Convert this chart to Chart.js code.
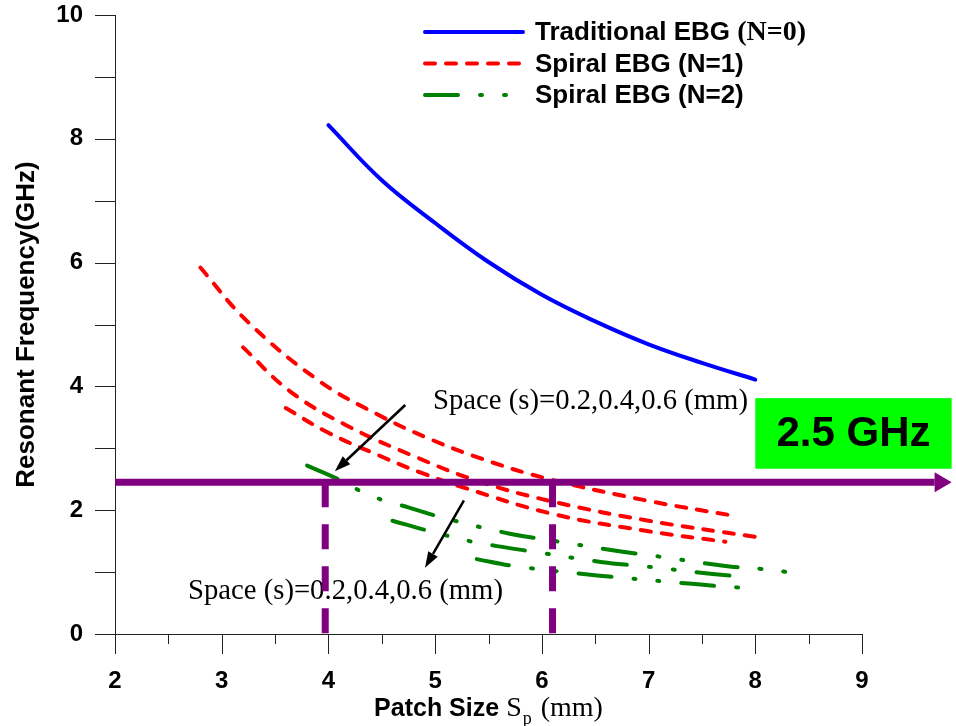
<!DOCTYPE html>
<html>
<head>
<meta charset="utf-8">
<title>Resonant frequency vs patch size</title>
<script src="https://cdn.jsdelivr.net/npm/chart.js@4.4.1/dist/chart.umd.min.js"></script>
<style>
  html, body { margin: 0; padding: 0; background: #fff; }
  canvas { display: block; }
</style>
</head>
<body>
<canvas id="chart" width="956" height="726"></canvas>
<script>
// Patch size Sp (mm) -> resonant frequency (GHz)
const sizeN0 = [4.0, 4.5, 5.0, 5.5, 6.0, 6.5, 7.0, 7.5, 8.0];
const freqN0 = [8.22, 7.33, 6.64, 6.01, 5.48, 5.05, 4.68, 4.38, 4.11];

// spiral N=1, three spacings
const sizeN1a = [2.8, 3.24, 3.92, 4.48, 4.91, 5.42, 6.05, 7.0, 7.8];
const freqN1a = [5.92, 5.05, 4.08, 3.53, 3.18, 2.84, 2.51, 2.15, 1.91];
const sizeN1b = [3.2, 3.64, 4.17, 4.79, 5.42, 6.1, 7.0, 8.0];
const freqN1b = [4.63, 3.92, 3.37, 2.88, 2.46, 2.14, 1.83, 1.57];
const sizeN1c = [3.6, 4.0, 4.48, 4.86, 5.26, 6.1, 7.0, 7.72];
const freqN1c = [3.65, 3.25, 2.88, 2.61, 2.37, 1.94, 1.66, 1.49];

// spiral N=2, three spacings
const sizeN2a = [3.8, 4.08, 4.3, 4.53, 4.74, 5.07, 5.7, 6.06, 6.71, 7.06, 7.72, 8.06, 8.3];
const freqN2a = [2.72, 2.51, 2.31, 2.15, 2.05, 1.88, 1.62, 1.52, 1.34, 1.26, 1.10, 1.05, 1.0];
const sizeN2b = [4.6, 4.93, 5.35, 5.58, 5.92, 6.57, 6.92, 7.6, 7.93];
const freqN2b = [1.83, 1.67, 1.49, 1.42, 1.33, 1.16, 1.10, 0.97, 0.92];
const sizeN2c = [5.39, 5.73, 6.39, 6.75, 7.41, 7.76, 7.97];
const freqN2c = [1.21, 1.10, 0.97, 0.91, 0.81, 0.76, 0.74];

const seriesNames = ['Traditional EBG ', 'Spiral EBG (N=1)', 'Spiral EBG (N=2)'];
const targetFreq = 2.45;          // the "2.5 GHz" line
const targetLabel = '2.5 GHz';
const crossSizes = [3.97, 6.1];   // where the target line is met
const spaceLabel = 'Space (s)=0.2,0.4,0.6 (mm)';

const SANS = '"Liberation Sans", Arial, sans-serif';
const SERIF = '"Liberation Serif", "Times New Roman", serif';
const PURPLE = '#800080';

// annotation placement, in data units
const notes = [
  { text: [4.98, 3.63], from: [4.72, 3.70], to: [4.06, 2.63] },
  { text: [2.684, 0.565], from: [5.27, 2.16], to: [4.905, 1.07] }
];
const arrowEnd = 9.84;
const boxX = [8.0, 9.84], boxY = [2.67, 3.81];

function pts(xs, ys) {
  return xs.map((x, i) => ({ x: x, y: ys[i] }));
}

function curve(label, xs, ys, color, dash) {
  return {
    label: label,
    data: pts(xs, ys),
    borderColor: color,
    borderWidth: 4,
    borderDash: dash,
    borderCapStyle: 'round',
    borderJoinStyle: 'round',
    tension: 0.4,
    pointRadius: 0,
    fill: false
  };
}

const redDash = [10, 11];
const greenDash = [33, 22, 2, 22, 2, 22];

const datasets = [
  curve(seriesNames[0], sizeN0, freqN0, '#0000ff', []),
  curve(seriesNames[1], sizeN1a, freqN1a, '#ff0000', redDash),
  curve(seriesNames[1], sizeN1b, freqN1b, '#ff0000', redDash),
  curve(seriesNames[1], sizeN1c, freqN1c, '#ff0000', redDash),
  curve(seriesNames[2], sizeN2a, freqN2a, '#008000', greenDash),
  curve(seriesNames[2], sizeN2b, freqN2b, '#008000', greenDash),
  curve(seriesNames[2], sizeN2c, freqN2c, '#008000', greenDash)
];

function arrow(ctx, x1, y1, x2, y2, color, width, headLen, headW) {
  const ang = Math.atan2(y2 - y1, x2 - x1);
  const bx = x2 - headLen * Math.cos(ang), by = y2 - headLen * Math.sin(ang);
  ctx.strokeStyle = color;
  ctx.fillStyle = color;
  ctx.lineWidth = width;
  ctx.setLineDash([]);
  ctx.beginPath();
  ctx.moveTo(x1, y1);
  ctx.lineTo(bx, by);
  ctx.stroke();
  ctx.beginPath();
  ctx.moveTo(x2, y2);
  ctx.lineTo(bx + headW / 2 * Math.sin(ang), by - headW / 2 * Math.cos(ang));
  ctx.lineTo(bx - headW / 2 * Math.sin(ang), by + headW / 2 * Math.cos(ang));
  ctx.closePath();
  ctx.fill();
}

// tick marks: major and minor, outside the axes
const tickPlugin = {
  id: 'tickMarks',
  afterDraw(chart) {
    const { ctx, chartArea: a, scales: { x, y } } = chart;
    ctx.save();
    ctx.strokeStyle = '#222';
    ctx.lineWidth = 1;
    for (let v = 0; v <= 10; v += 1) {
      const py = Math.round(y.getPixelForValue(v)) + 0.5;
      ctx.beginPath();
      ctx.moveTo(a.left - 20, py);
      ctx.lineTo(a.left, py);
      ctx.stroke();
    }
    for (let v = 2; v <= 9.001; v += 0.5) {
      const px = Math.round(x.getPixelForValue(v)) + 0.5;
      const len = Number.isInteger(v) ? 20 : 10;
      ctx.beginPath();
      ctx.moveTo(px, a.bottom);
      ctx.lineTo(px, a.bottom + len);
      ctx.stroke();
    }
    ctx.restore();
  }
};

// x title with subscript, legend, annotations, 2.5 GHz marker
const overlayPlugin = {
  id: 'overlay',
  afterDatasetsDraw(chart) {
    const { ctx, chartArea: a, scales: { x, y } } = chart;
    const X = v => x.getPixelForValue(v), Y = v => y.getPixelForValue(v);
    ctx.save();

    // annotation texts and arrows
    ctx.fillStyle = '#000';
    ctx.font = '28.7px ' + SERIF;
    ctx.textBaseline = 'alphabetic';
    ctx.textAlign = 'left';
    notes.forEach(n => {
      ctx.fillText(spaceLabel, X(n.text[0]), Y(n.text[1]));
      arrow(ctx, X(n.from[0]), Y(n.from[1]), X(n.to[0]), Y(n.to[1]), '#000', 2.5, 16, 11);
    });

    // 2.5 GHz line and drops
    const yp = Y(targetFreq);
    ctx.strokeStyle = PURPLE;
    ctx.lineWidth = 7;
    ctx.lineCap = 'butt';
    ctx.setLineDash([25, 17]);
    crossSizes.forEach(s => {
      ctx.beginPath();
      ctx.moveTo(X(s), yp);
      ctx.lineTo(X(s), Y(0));
      ctx.stroke();
    });
    ctx.setLineDash([]);
    arrow(ctx, a.left, yp, X(arrowEnd), yp, PURPLE, 7, 17, 20);

    // green label box
    const bx = X(boxX[0]), bw = X(boxX[1]) - bx;
    const by = Y(boxY[1]), bh = Y(boxY[0]) - by;
    ctx.fillStyle = '#00ff00';
    ctx.fillRect(bx, by, bw, bh);
    ctx.fillStyle = '#000';
    ctx.font = 'bold 42px ' + SANS;
    ctx.textAlign = 'center';
    ctx.textBaseline = 'middle';
    ctx.fillText(targetLabel, bx + bw / 2, by + bh / 2 + 1);

    // legend
    const entries = [datasets[0], datasets[1], datasets[4]];
    entries.forEach((ds, i) => {
      const ly = a.top + 17 + i * 31.5;
      ctx.strokeStyle = ds.borderColor;
      ctx.lineWidth = 4;
      ctx.lineCap = 'round';
      ctx.setLineDash(ds.borderDash);
      ctx.beginPath();
      ctx.moveTo(a.left + 310, ly);
      ctx.lineTo(a.left + 408, ly);
      ctx.stroke();
      ctx.setLineDash([]);
      ctx.fillStyle = '#000';
      ctx.textAlign = 'left';
      ctx.textBaseline = 'middle';
      ctx.font = 'bold 26px ' + SANS;
      ctx.fillText(seriesNames[i], a.left + 420, ly + 1);
      if (i === 0) {
        const w = ctx.measureText(seriesNames[i]).width;
        ctx.font = 'bold 28px ' + SERIF;
        ctx.fillText('(N=0)', a.left + 420 + w, ly + 1);
      }
    });

    // x axis title: Patch Size  Sp (mm)
    const parts = [
      { t: 'Patch Size', f: 'bold 25px ' + SANS, dy: 0, gap: 7 },
      { t: 'S', f: '28px ' + SERIF, dy: 0, gap: 1 },
      { t: 'p', f: '18px ' + SERIF, dy: 8, gap: 9 },
      { t: '(mm)', f: '28px ' + SERIF, dy: 0, gap: 0 }
    ];
    let total = 0;
    parts.forEach(p => { ctx.font = p.f; p.w = ctx.measureText(p.t).width; total += p.w + p.gap; });
    let tx = (a.left + a.right) / 2 - total / 2;
    const base = a.bottom + 82;
    ctx.textAlign = 'left';
    ctx.textBaseline = 'alphabetic';
    parts.forEach(p => {
      ctx.font = p.f;
      ctx.fillText(p.t, tx, base + p.dy);
      tx += p.w + p.gap;
    });

    ctx.restore();
  }
};

new Chart(document.getElementById('chart'), {
  type: 'line',
  data: { datasets: datasets },
  options: {
    responsive: false,
    animation: false,
    devicePixelRatio: 1,
    layout: { padding: { top: 15, right: 94, left: 0, bottom: 0 } },
    plugins: {
      legend: { display: false },
      tooltip: { enabled: false }
    },
    scales: {
      x: {
        type: 'linear',
        min: 2,
        max: 9,
        ticks: { stepSize: 1, color: '#000', padding: 13, font: { family: SANS, size: 24, weight: 'bold' } },
        grid: { drawOnChartArea: false, drawTicks: true, tickLength: 20, tickColor: 'rgba(0,0,0,0)' },
        border: { display: true, color: '#222', width: 1 },
        afterFit: s => { s.height = 92; }
      },
      y: {
        min: 0,
        max: 10,
        ticks: { stepSize: 2, color: '#000', padding: 0, font: { family: SANS, size: 24, weight: 'bold' } },
        grid: { drawOnChartArea: false, drawTicks: true, tickLength: 32, tickColor: 'rgba(0,0,0,0)' },
        border: { display: true, color: '#222', width: 1 },
        title: {
          display: true,
          text: 'Resonant Frequency(GHz)',
          color: '#000',
          font: { family: SANS, size: 26, weight: 'bold' },
          padding: { top: 11, bottom: 0 }
        },
        afterFit: s => { s.width = 115; }
      }
    }
  },
  plugins: [tickPlugin, overlayPlugin]
});
</script>
</body>
</html>
